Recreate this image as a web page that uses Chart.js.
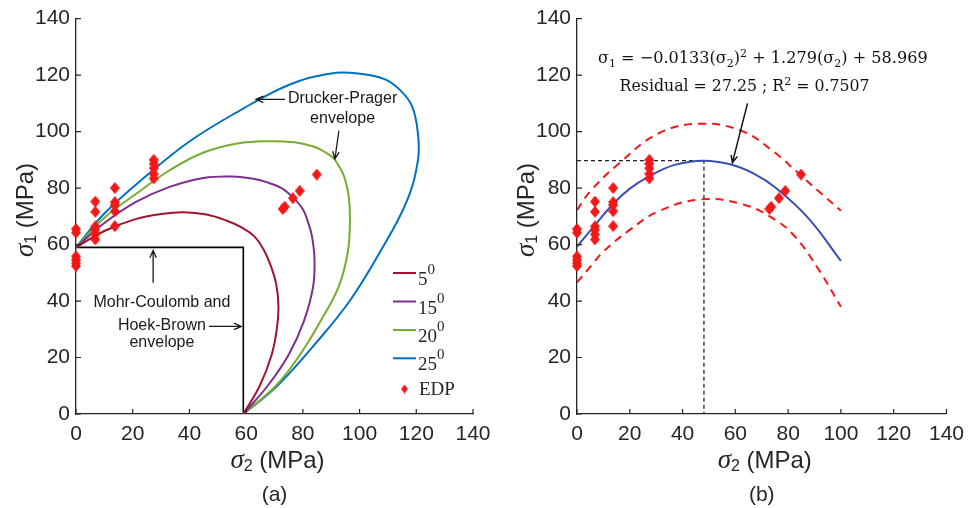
<!DOCTYPE html>
<html>
<head>
<meta charset="utf-8">
<script src="https://cdn.jsdelivr.net/npm/chart.js@4.4.0/dist/chart.umd.min.js"></script>
<style>
  html, body { margin: 0; padding: 0; background: #fff; }
  #wrap { position: relative; width: 972px; height: 508px; overflow: hidden; }
  canvas { position: absolute; top: 0; }
</style>
</head>
<body>
<div id="wrap">
  <canvas id="chartA" width="500" height="508" style="left:0"></canvas>
  <canvas id="chartB" width="500" height="508" style="left:472px"></canvas>
</div>
<script>
// values, sigma2 / sigma1 in MPa

// experimental data points (EDP), same in both panels
const edpSigma2 = [0, 0, 0, 0, 0, 0,
  6.8, 6.8, 6.8, 6.8, 6.8, 6.8,
  13.7, 13.7, 13.7, 13.7, 13.7,
  27.4, 27.4, 27.4, 27.4, 27.4,
  72.9, 73.6, 76.5, 78.9, 84.9];
const edpSigma1 = [65.5, 64.2, 55.8, 54.6, 53.4, 52.4,
  75.2, 71.6, 66.4, 65.2, 63.6, 61.8,
  80, 75, 74, 71.8, 66.5,
  90, 88.6, 87, 85, 83.4,
  72.6, 73.4, 76.4, 79, 84.8];

// (a) Mohr-Coulomb / Hoek-Brown envelope
const mcEnvelope = [[0, 59], [59, 59], [59, 0]];

// (a) Drucker-Prager envelopes, [sigma2, sigma1], traced from (0,59) round to (59,0)
const frictionAngles = [5, 15, 20, 25];
const dp5 = [[0, 59], [10, 64.8], [21, 69], [30, 70.8], [38, 71.4], [46, 70.6], [53, 68.5],
  [58.5, 66], [62.9, 62.9], [66, 58.5], [68.5, 53], [70.6, 46], [71.4, 38], [70.8, 30],
  [69, 21], [64.8, 10], [59, 0]];
const dp15 = [[0, 59], [10, 67.6], [21, 75], [33, 80.4], [45, 83.6], [55, 84.1], [63, 83.2],
  [68, 81.8], [72.5, 80], [76.6, 76.6], [80, 72.5], [81.8, 68], [83.2, 63], [84.1, 55],
  [83.6, 45], [80.4, 33], [75, 21], [67.6, 10], [59, 0]];
const dp20 = [[0, 59], [10, 69.5], [21, 77.8], [33, 86.3], [45, 92.6], [57, 95.8], [68, 96.6],
  [77, 96.2], [84, 94.6], [88, 92.6], [90.7, 90.7], [92.6, 88], [94.6, 84], [96.2, 77],
  [96.6, 68], [95.8, 57], [92.6, 45], [86.3, 33], [79, 21], [70.5, 10], [59, 0]];
const dp25 = [[0, 59], [10, 71], [25, 84.5], [40, 96.5], [57, 107], [75, 116.5], [90, 120.6],
  [100, 120.5], [109, 118.5], [114.5, 114.5], [118.5, 109], [120.5, 100], [120.6, 90],
  [116.5, 75], [107, 57], [96.5, 40], [84.5, 25], [71, 10], [59, 0]];
const dpCurves = [dp5, dp15, dp20, dp25];

// (b) quadratic fit and prediction bounds
const fitSigma2 = [0, 6, 13.5, 20, 27, 37, 48, 58, 67, 75.4, 87.8, 100];
const fitSigma1 = [59.2, 66, 74.2, 79.8, 84, 88.2, 89.7, 88.4, 85.1, 80, 69.2, 54.2];
const upperSigma2 = [0, 5, 16, 31, 47, 63, 75, 83, 92, 100];
const upperSigma1 = [72.2, 78.8, 88.8, 99.4, 102.8, 100, 92.5, 86, 78.5, 72];
const lowerSigma2 = [0, 5, 10, 20, 31, 47, 63, 75, 83, 92, 100];
const lowerSigma1 = [46.6, 52.1, 57.5, 65.2, 71.8, 76, 74.2, 68.8, 62.4, 50.5, 38];
const peakGuide = [[0, 89.7], [48.1, 89.7], [48.1, 0]];

const axisTicks = [0, 20, 40, 60, 80, 100, 120, 140];

// styling
const AXIS = '#262626';
const SANS = '"Liberation Sans", Arial, sans-serif';
const SERIF = '"Liberation Serif", "Times New Roman", serif';
const MATH = '"DejaVu Serif", serif';
const curveColors = ['#A2142F', '#7E2F8E', '#77AC30', '#0072BD'];
const RED = '#F21818';

const pts = arr => arr.map(([x, y]) => ({ x, y }));
const zip = (xs, ys) => xs.map((x, i) => ({ x, y: ys[i] }));

function diamond(w, h, color) {
  const c = document.createElement('canvas');
  c.width = w; c.height = h;
  const g = c.getContext('2d');
  g.fillStyle = color;
  g.beginPath();
  g.moveTo(w / 2, 0); g.lineTo(w, h / 2); g.lineTo(w / 2, h); g.lineTo(0, h / 2);
  g.closePath(); g.fill();
  return c;
}
const edpMarker = diamond(10, 12, RED);

// rich text: parts = [{t, size, family, italic, dy}]
function fontOf(p, size, family) {
  return (p.italic ? 'italic ' : '') + (p.size || size) + 'px ' + (p.family || family);
}
function richWidth(ctx, parts, size, family) {
  let w = 0;
  parts.forEach(p => { ctx.font = fontOf(p, size, family); w += ctx.measureText(p.t).width; });
  return w;
}
function drawRich(ctx, parts, x, y, size, family, align) {
  const total = richWidth(ctx, parts, size, family);
  let cx = align === 'center' ? x - total / 2 : (align === 'right' ? x - total : x);
  ctx.textAlign = 'left';
  parts.forEach(p => {
    ctx.font = fontOf(p, size, family);
    ctx.fillText(p.t, cx, y + (p.dy || 0));
    cx += ctx.measureText(p.t).width;
  });
}

function arrow(ctx, x1, y1, x2, y2) {
  const a = Math.atan2(y2 - y1, x2 - x1), L = 8, h = 0.42;
  ctx.beginPath();
  ctx.moveTo(x1, y1); ctx.lineTo(x2, y2);
  ctx.moveTo(x2 - L * Math.cos(a - h), y2 - L * Math.sin(a - h));
  ctx.lineTo(x2, y2);
  ctx.lineTo(x2 - L * Math.cos(a + h), y2 - L * Math.sin(a + h));
  ctx.stroke();
}

function titleParts(sub) {
  return [
    { t: 'σ', italic: true, family: SERIF, size: 27 },
    { t: sub, size: 16, dy: 6 },
    { t: ' (MPa)', size: 24 }
  ];
}

// axes, inward ticks, titles and panel letter
function frame(letter) {
  return {
    id: 'frame' + letter,
    afterDraw(chart) {
      const { ctx, chartArea: a, scales: { x, y } } = chart;
      ctx.save();
      ctx.strokeStyle = AXIS;
      ctx.lineWidth = 1.2;
      ctx.beginPath();
      axisTicks.forEach(v => {
        const px = x.getPixelForValue(v), py = y.getPixelForValue(v);
        ctx.moveTo(px, a.bottom); ctx.lineTo(px, a.bottom - 5);
        ctx.moveTo(a.left, py); ctx.lineTo(a.left + 5, py);
      });
      ctx.stroke();

      ctx.fillStyle = AXIS;
      ctx.textBaseline = 'middle';
      const cx = (a.left + a.right) / 2;
      drawRich(ctx, titleParts('2'), cx + 3, 461, 24, SANS, 'center');
      ctx.save();
      ctx.translate(a.left - 50, 210);
      ctx.rotate(-Math.PI / 2);
      drawRich(ctx, titleParts('1'), 0, 0, 24, SANS, 'center');
      ctx.restore();
      ctx.font = '21px ' + SANS;
      ctx.textAlign = 'center';
      ctx.fillText('(' + letter + ')', cx, 495);
      ctx.restore();
    }
  };
}

const notesA = {
  id: 'notesA',
  afterDraw(chart) {
    const { ctx, scales: { x, y } } = chart;
    const P = (u, v) => [x.getPixelForValue(u), y.getPixelForValue(v)];
    ctx.save();
    ctx.fillStyle = '#1a1a1a';
    ctx.strokeStyle = '#1a1a1a';
    ctx.lineWidth = 1.3;
    ctx.font = '16px ' + SANS;
    ctx.textAlign = 'center';
    ctx.textBaseline = 'middle';

    ctx.fillText('Drucker-Prager', ...P(94, 111.8));
    ctx.fillText('envelope', ...P(94, 104.7));
    arrow(ctx, ...P(73.7, 111.4), ...P(63.5, 111.4));
    arrow(ctx, ...P(92.7, 100.3), ...P(91.3, 90.3));

    ctx.fillText('Mohr-Coulomb and', ...P(30.3, 39.5));
    ctx.fillText('Hoek-Brown', ...P(30.3, 31.3));
    ctx.fillText('envelope', ...P(30.3, 25.4));
    arrow(ctx, ...P(46.9, 31.0), ...P(58.3, 31.0));
    arrow(ctx, ...P(27.2, 46.5), ...P(27.2, 57.9));

    // legend
    const lx = 393, lw = 23;
    const rows = [273, 301.5, 330, 358.3];
    ctx.textBaseline = 'alphabetic';
    frictionAngles.forEach((ang, i) => {
      ctx.strokeStyle = curveColors[i];
      ctx.lineWidth = 2;
      ctx.beginPath();
      ctx.moveTo(lx, rows[i]); ctx.lineTo(lx + lw, rows[i]);
      ctx.stroke();
      ctx.fillStyle = AXIS;
      drawRich(ctx, [{ t: String(ang) }, { t: '0', size: 15, dy: -11 }], lx + lw + 2, rows[i] + 12, 19, SERIF, 'left');
    });
    ctx.drawImage(diamond(7, 9, RED), lx + 8, 384.5);
    ctx.fillStyle = AXIS;
    ctx.font = '19px ' + SERIF;
    ctx.fillText('EDP', lx + lw + 3, 395);
    ctx.restore();
  }
};

const notesB = {
  id: 'notesB',
  afterDraw(chart) {
    const { ctx, scales: { x, y } } = chart;
    const P = (u, v) => [x.getPixelForValue(u), y.getPixelForValue(v)];
    ctx.save();
    ctx.fillStyle = '#111';
    ctx.strokeStyle = '#111';
    ctx.textBaseline = 'alphabetic';
    const eq = s => [
      { t: 'σ' }, { t: '1', size: Math.round(s * 0.7), dy: s * 0.25 },
      { t: ' = −0.0133(' }, { t: 'σ' }, { t: '2', size: Math.round(s * 0.7), dy: s * 0.25 },
      { t: ')' }, { t: '2', size: Math.round(s * 0.7), dy: -s * 0.4 },
      { t: ' + 1.279(' }, { t: 'σ' }, { t: '2', size: Math.round(s * 0.7), dy: s * 0.25 },
      { t: ') + 58.969' }
    ];
    const res = s => [
      { t: 'Residual = 27.25 ; R' }, { t: '2', size: Math.round(s * 0.7), dy: -s * 0.4 },
      { t: ' = 0.7507' }
    ];
    const s1 = 16 * 330 / richWidth(ctx, eq(16), 16, MATH);
    const s2 = 16 * 250 / richWidth(ctx, res(16), 16, MATH);
    const [ex, ey] = P(70.4, 124.2);
    drawRich(ctx, eq(s1), ex, ey, s1, MATH, 'center');
    const [rx, ry] = P(63.5, 114.3);
    drawRich(ctx, res(s2), rx, ry, s2, MATH, 'center');
    ctx.lineWidth = 1.5;
    arrow(ctx, ...P(64.6, 110), ...P(58.9, 89));
    ctx.restore();
  }
};

function axisOptions(size) {
  return {
    type: 'linear', min: 0, max: 140,
    afterBuildTicks(s) { s.ticks = axisTicks.map(v => ({ value: v })); },
    grid: { display: false, drawTicks: false },
    border: { display: true, color: AXIS, width: 1.3 },
    ticks: { color: AXIS, font: { family: SANS, size: 21 } },
    afterFit: size
  };
}

function baseOptions(yWidth, padRight) {
  const xs = axisOptions(s => { s.height = 94; });
  xs.ticks.padding = 8;
  const ys = axisOptions(s => { s.width = yWidth; });
  ys.ticks.padding = 6;
  return {
    responsive: false,
    animation: false,
    events: [],
    layout: { padding: { left: 0, right: padRight, top: 17, bottom: 0 } },
    plugins: { legend: { display: false }, tooltip: { enabled: false } },
    scales: { x: xs, y: ys }
  };
}

const line = (data, color, width, extra) => Object.assign({
  data, showLine: true, borderColor: color, borderWidth: width,
  pointRadius: 0, tension: 0, fill: false
}, extra);

const edpSet = () => ({
  label: 'EDP', data: zip(edpSigma2, edpSigma1), showLine: false,
  pointStyle: edpMarker, pointRadius: 6, clip: false, order: 0
});

new Chart(document.getElementById('chartA'), {
  type: 'scatter',
  data: {
    datasets: [
      edpSet(),
      ...dpCurves.map((c, i) => line(pts(c), curveColors[i], 2,
        { label: frictionAngles[i] + '°', tension: 0.4, order: 2 })),
      line(pts(mcEnvelope), '#000', 1.6, { label: 'MC', order: 5 })
    ]
  },
  options: baseOptions(76, 27),
  plugins: [frame('a'), notesA]
});

new Chart(document.getElementById('chartB'), {
  type: 'scatter',
  data: {
    datasets: [
      edpSet(),
      line(zip(fitSigma2, fitSigma1), '#3A4FB0', 2, { label: 'fit', tension: 0.4, order: 1 }),
      line(zip(upperSigma2, upperSigma1), RED, 2, { label: 'upper', tension: 0.4, borderDash: [8, 6], order: 2 }),
      line(zip(lowerSigma2, lowerSigma1), RED, 2, { label: 'lower', tension: 0.4, borderDash: [8, 6], order: 2 }),
      line(pts(peakGuide), '#222', 1.3, { label: 'peak', borderDash: [4, 3], order: 3 })
    ]
  },
  options: baseOptions(105, 18),
  plugins: [frame('b'), notesB]
});
</script>
</body>
</html>
